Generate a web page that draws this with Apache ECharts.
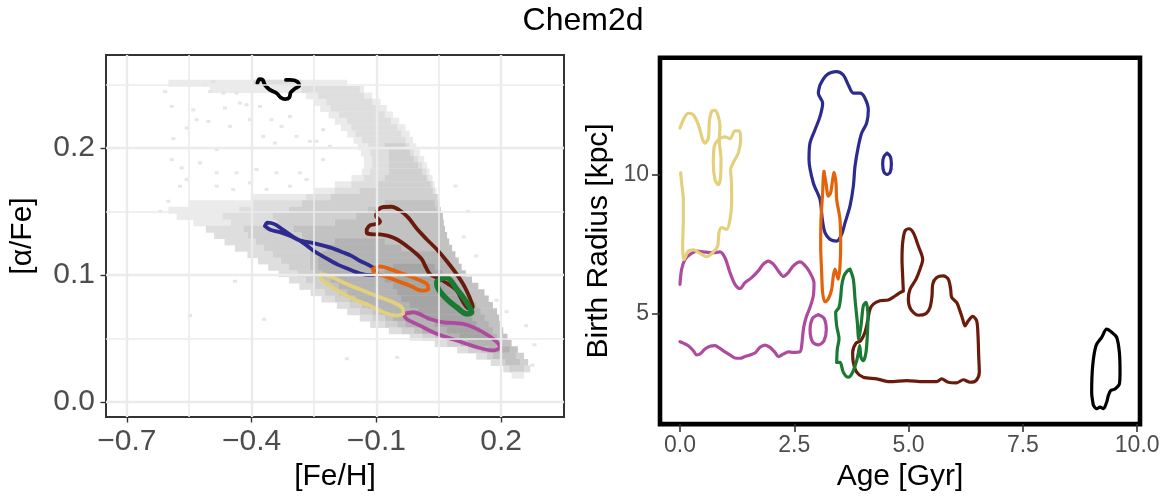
<!DOCTYPE html>
<html>
<head>
<meta charset="utf-8">
<script src="https://cdn.jsdelivr.net/npm/echarts@6/dist/echarts.min.js"></script>
<style>html,body{margin:0;padding:0;background:#fff;}#c{width:1166px;height:497px;}</style>
</head>
<body>
<div id="c"></div>
<script>
// ---------- tick labels ----------
const feTicks = [-0.7, -0.4, -0.1, 0.2];
const feMinor = [-0.55, -0.25, 0.05];
const alphaTicks = [0.0, 0.1, 0.2];
const alphaMinor = [0.05, 0.15, 0.25];
const ageTicks = [0, 2.5, 5, 7.5, 10];
const radiusTicks = [5, 10];

// ---------- density of stars in [Fe/H]-[alpha/Fe] (row y, x from, x to, level) ----------
const densityRuns = [
[0.251,-0.60,-0.43,1],[0.251,-0.43,-0.17,1],[0.251,-0.40,-0.28,2],
[0.246,-0.50,-0.13,1],[0.246,-0.28,-0.14,2],
[0.241,-0.27,-0.11,1],[0.241,-0.24,-0.13,2],
[0.236,-0.25,-0.09,1],[0.236,-0.22,-0.11,2],
[0.231,-0.235,-0.075,1],[0.231,-0.21,-0.095,2],
[0.226,-0.215,-0.06,1],[0.226,-0.19,-0.08,2],
[0.221,-0.20,-0.045,1],[0.221,-0.17,-0.065,2],
[0.216,-0.185,-0.03,1],[0.216,-0.16,-0.05,2],
[0.211,-0.17,-0.02,1],[0.211,-0.15,-0.04,2],
[0.206,-0.155,-0.012,1],[0.206,-0.135,-0.03,2],
[0.201,-0.145,-0.004,1],[0.201,-0.12,-0.02,2],[0.201,-0.08,-0.03,3],
[0.196,-0.137,0.005,1],[0.196,-0.115,-0.01,2],[0.196,-0.07,-0.02,3],
[0.191,-0.13,0.015,1],[0.191,-0.11,0.0,2],[0.191,-0.07,-0.01,3],
[0.186,-0.13,0.022,1],[0.186,-0.11,0.01,2],[0.186,-0.07,0.0,3],
[0.181,-0.135,0.028,1],[0.181,-0.115,0.02,2],[0.181,-0.07,0.01,3],
[0.176,-0.16,0.035,1],[0.176,-0.13,0.025,2],[0.176,-0.08,0.02,3],
[0.171,-0.20,0.04,1],[0.171,-0.16,0.035,2],[0.171,-0.10,0.03,3],
[0.166,-0.25,0.045,1],[0.166,-0.20,0.04,2],[0.166,-0.14,0.035,3],
[0.161,-0.40,-0.27,1],[0.161,-0.27,0.05,2],[0.161,-0.21,0.045,3],
[0.156,-0.55,-0.40,1],[0.156,-0.40,-0.28,2],[0.156,-0.28,0.052,3],[0.156,-0.08,0.04,4],
[0.151,-0.60,-0.43,1],[0.151,-0.43,-0.31,2],[0.151,-0.31,0.055,3],[0.151,-0.12,0.045,4],
[0.146,-0.58,-0.47,1],[0.146,-0.47,-0.35,2],[0.146,-0.35,-0.15,3],[0.146,-0.15,0.06,4],
[0.141,-0.54,-0.45,1],[0.141,-0.45,-0.34,2],[0.141,-0.34,-0.20,3],[0.141,-0.20,0.062,4],
[0.136,-0.51,-0.42,2],[0.136,-0.42,-0.30,3],[0.136,-0.30,0.065,4],
[0.131,-0.49,-0.41,2],[0.131,-0.41,-0.28,3],[0.131,-0.28,0.07,4],
[0.126,-0.465,-0.39,2],[0.126,-0.39,-0.27,3],[0.126,-0.27,0.075,4],[0.126,-0.20,-0.08,5],
[0.121,-0.44,-0.37,2],[0.121,-0.37,-0.26,3],[0.121,-0.26,0.082,4],[0.121,-0.22,-0.04,5],
[0.116,-0.41,-0.35,2],[0.116,-0.35,-0.26,3],[0.116,-0.26,0.09,4],[0.116,-0.23,0.05,5],
[0.111,-0.385,-0.33,2],[0.111,-0.33,-0.26,3],[0.111,-0.26,0.098,4],[0.111,-0.24,0.07,5],
[0.106,-0.36,-0.31,2],[0.106,-0.31,-0.26,3],[0.106,-0.26,0.105,4],[0.106,-0.24,0.08,5],[0.106,-0.06,0.04,6],
[0.101,-0.335,-0.29,2],[0.101,-0.29,-0.25,3],[0.101,-0.25,0.115,4],[0.101,-0.23,0.09,5],[0.101,-0.08,0.06,6],
[0.096,-0.31,-0.27,2],[0.096,-0.27,-0.23,3],[0.096,-0.23,0.13,4],[0.096,-0.21,0.10,5],[0.096,-0.08,0.07,6],
[0.091,-0.285,-0.25,2],[0.091,-0.25,-0.21,3],[0.091,-0.21,0.145,4],[0.091,-0.19,0.11,5],[0.091,-0.06,0.08,6],
[0.086,-0.258,-0.225,2],[0.086,-0.225,-0.19,3],[0.086,-0.19,0.16,4],[0.086,-0.17,0.12,5],[0.086,-0.05,0.09,6],
[0.081,-0.232,-0.20,2],[0.081,-0.20,-0.165,3],[0.081,-0.165,0.17,4],[0.081,-0.15,0.13,5],[0.081,-0.04,0.10,6],
[0.076,-0.195,-0.165,2],[0.076,-0.165,-0.135,3],[0.076,-0.135,0.18,4],[0.076,-0.12,0.14,5],[0.076,-0.02,0.11,6],
[0.071,-0.17,-0.14,2],[0.071,-0.14,-0.11,3],[0.071,-0.11,0.19,4],[0.071,-0.09,0.15,5],[0.071,0.0,0.12,6],
[0.066,-0.14,-0.11,2],[0.066,-0.11,-0.08,3],[0.066,-0.08,0.195,4],[0.066,-0.06,0.16,5],[0.066,0.02,0.13,6],
[0.061,-0.115,-0.08,2],[0.061,-0.08,-0.05,3],[0.061,-0.05,0.20,4],[0.061,-0.03,0.17,5],[0.061,0.04,0.14,6],
[0.056,-0.07,-0.04,2],[0.056,-0.04,-0.01,3],[0.056,-0.01,0.205,4],[0.056,0.01,0.18,5],[0.056,0.07,0.15,6],
[0.051,-0.02,0.01,2],[0.051,0.01,0.04,3],[0.051,0.04,0.215,4],[0.051,0.06,0.19,5],[0.051,0.10,0.17,6],
[0.046,0.04,0.07,2],[0.046,0.07,0.10,3],[0.046,0.10,0.225,4],[0.046,0.12,0.20,5],
[0.041,0.094,0.12,2],[0.041,0.12,0.15,3],[0.041,0.15,0.24,4],[0.041,0.17,0.22,5],
[0.036,0.14,0.165,2],[0.036,0.165,0.255,3],[0.036,0.18,0.235,4],
[0.031,0.175,0.20,2],[0.031,0.20,0.265,3],[0.031,0.21,0.245,4],
[0.026,0.205,0.27,2],[0.026,0.22,0.255,3],
[0.021,0.225,0.255,1]
];

// isolated stars (sparse cells)
const sparseStars = [
[-0.608,0.2444],[-0.592,0.2327],[-0.588,0.2073],[-0.556,0.2157],[-0.592,0.1908],[-0.568,0.1843],
[-0.540,0.230],[-0.532,0.2222],[-0.512,0.2497],[-0.504,0.2209],[-0.500,0.2444],[-0.492,0.2523],
[-0.484,0.1987],[-0.468,0.2431],[-0.464,0.2314],[-0.452,0.217],[-0.436,0.2431],[-0.428,0.2353],
[-0.412,0.234],[-0.404,0.2222],[-0.380,0.2327],[-0.372,0.2091],[-0.352,0.2222],[-0.344,0.2039],
[-0.328,0.217],[-0.308,0.2248],[-0.292,0.2091],[-0.260,0.2052],[-0.244,0.2052],[-0.228,0.2144],
[-0.212,0.2013],[-0.228,0.1908],[-0.284,0.1804],[-0.340,0.1804],[-0.388,0.183],[-0.436,0.1804],
[-0.484,0.1804],[-0.524,0.1882],[-0.556,0.1751],[-0.572,0.1699],[-0.484,0.1699],[-0.444,0.1673],
[-0.404,0.1725],[-0.364,0.1673],[-0.308,0.1699],[-0.268,0.1751],
[-0.548,0.068],[-0.171,0.034],[0.11,0.13],[0.14,0.115],[0.189,0.080],[0.213,0.071],[0.26,0.06],
[0.275,0.029],[-0.62,0.15],[-0.60,0.158],[-0.44,0.095],[-0.37,0.065],[0.09,0.17],[0.12,0.15],
[-0.05,0.035],[0.28,0.045]
];

// ---------- contours, left panel ([Fe/H], [alpha/Fe]) ----------
const leftBlack = [[-0.3862,0.2510],[-0.3814,0.2541],[-0.3734,0.2536],[-0.3678,0.2494],[-0.3558,0.2457],[-0.3397,0.2431],[-0.3301,0.2397],[-0.3197,0.2384],[-0.3093,0.2397],[-0.3061,0.2436],[-0.2957,0.2468],[-0.2853,0.2489],[-0.2901,0.2523],[-0.3077,0.2536],[-0.3173,0.2536]];
const leftBrown = [[-0.1233,0.1359],[-0.1154,0.1391],[-0.0955,0.1404],[-0.0913,0.1424],[-0.101,0.1464],[-0.097,0.1508],[-0.0833,0.1535],[-0.0632,0.1537],[-0.045,0.1511],[-0.0233,0.1451],[-0.0032,0.1365],[0.0208,0.1281],[0.045,0.1202],[0.069,0.111],[0.093,0.1006],[0.1129,0.0902],[0.129,0.0784],[0.1317,0.0745],[0.121,0.0737],[0.1089,0.0784],[0.093,0.0876],[0.073,0.0928],[0.049,0.0972],[0.0288,0.1006],[0.0192,0.1059],[0.0089,0.1124],[-0.0072,0.1176],[-0.0272,0.1228],[-0.0512,0.1281],[-0.0714,0.1307],[-0.0913,0.132],[-0.1074,0.132],[-0.1233,0.1333],[-0.1233,0.1359]];
const leftMagenta = [[-0.0353,0.0693],[-0.0113,0.0706],[0.0288,0.0653],[0.0609,0.0627],[0.1089,0.0614],[0.1411,0.0575],[0.1810,0.0496],[0.1971,0.0431],[0.1810,0.0405],[0.1411,0.0431],[0.093,0.0483],[0.045,0.0536],[0.0048,0.0601],[-0.0272,0.0653],[-0.0353,0.0693]];
const leftYellow = [[-0.236,0.0995],[-0.2315,0.1007],[-0.2115,0.0989],[-0.1714,0.0929],[-0.1315,0.0876],[-0.0913,0.0824],[-0.0593,0.0784],[-0.0392,0.0745],[-0.0352,0.0700],[-0.0512,0.0680],[-0.0833,0.0706],[-0.1154,0.0758],[-0.1474,0.0798],[-0.1795,0.0850],[-0.2115,0.0915],[-0.2315,0.0963],[-0.236,0.0995]];
const leftBlue = [[-0.368,0.1385],[-0.362,0.1412],[-0.345,0.140],[-0.324,0.1355],[-0.300,0.1300],[-0.284,0.1270],[-0.265,0.1225],[-0.244,0.1175],[-0.220,0.1130],[-0.195,0.1085],[-0.170,0.1050],[-0.147,0.1020],[-0.125,0.1000],[-0.108,0.0998],[-0.099,0.1015],[-0.103,0.1046],[-0.120,0.1080],[-0.139,0.1110],[-0.160,0.1150],[-0.179,0.1176],[-0.210,0.1215],[-0.244,0.1245],[-0.284,0.1272],[-0.305,0.1305],[-0.330,0.1335],[-0.355,0.1355],[-0.368,0.1385]];
const leftOrange = [[-0.109,0.1046],[-0.091,0.1067],[-0.067,0.1046],[-0.035,0.1007],[-0.003,0.0968],[0.021,0.0929],[0.025,0.0889],[0.009,0.0876],[-0.019,0.0915],[-0.051,0.0954],[-0.083,0.0994],[-0.103,0.1007],[-0.109,0.1046]];
const leftGreen = [[0.0529,0.0967],[0.069,0.098],[0.093,0.0889],[0.117,0.0784],[0.129,0.0706],[0.117,0.0693],[0.093,0.0745],[0.069,0.081],[0.049,0.0889],[0.045,0.0941],[0.0529,0.0967]];

// ---------- contours, right panel (Age, Birth radius) ----------
const rightYellow = [[0.000,11.67],[0.182,12.20],[0.292,12.14],[0.401,11.79],[0.496,11.25],[0.547,11.13],[0.620,11.31],[0.642,11.90],[0.693,12.26],[0.766,12.30],[0.838,12.08],[0.875,11.73],[0.860,11.25],[0.897,10.54],[0.889,9.94],[0.838,9.64],[0.766,9.82],[0.729,10.42],[0.751,11.01],[0.838,11.25],[0.984,11.35],[1.094,11.29],[1.203,11.57],[1.298,11.57],[1.327,11.25],[1.276,10.77],[1.181,10.48],[1.108,10.18],[1.130,9.58],[1.130,8.99],[1.094,8.39],[1.021,8.04],[0.911,8.10],[0.853,7.92],[0.824,7.44],[0.729,7.23],[0.583,7.06],[0.437,7.18],[0.292,7.30],[0.182,7.26],[0.088,6.96],[0.058,7.44],[0.073,8.39],[0.073,9.11],[0.036,9.70],[0.015,10.06]];
const rightMagenta = [[0.000,6.07],[0.036,6.61],[0.109,6.96],[0.219,7.14],[0.365,7.26],[0.510,7.23],[0.729,7.20],[0.875,7.23],[0.984,7.02],[1.094,6.49],[1.203,6.07],[1.312,5.92],[1.422,6.13],[1.568,6.31],[1.713,6.55],[1.823,6.79],[1.932,6.90],[2.042,6.79],[2.151,6.55],[2.260,6.35],[2.370,6.49],[2.479,6.73],[2.625,6.87],[2.771,6.67],[2.880,6.37],[2.931,6.13],[2.916,5.65],[2.843,5.24],[2.771,4.94],[2.712,4.58],[2.683,4.23],[2.661,3.87],[2.625,3.65],[2.479,3.63],[2.370,3.65],[2.260,3.57],[2.151,3.48],[2.078,3.63],[1.969,3.81],[1.859,3.89],[1.750,3.81],[1.640,3.61],[1.531,3.54],[1.422,3.48],[1.312,3.42],[1.203,3.43],[1.094,3.54],[0.984,3.65],[0.875,3.77],[0.766,3.87],[0.656,3.85],[0.547,3.75],[0.437,3.57],[0.365,3.54],[0.292,3.69],[0.182,3.87],[0.073,3.96],[0.000,4.01]];
const rightMagentaLoop = [[3.025,4.98],[3.15,4.85],[3.20,4.44],[3.15,4.05],[3.025,3.90],[2.90,4.00],[2.845,4.44],[2.90,4.85],[3.025,4.98]];
const rightBlue = [[3.062,13.21],[3.208,13.57],[3.427,13.69],[3.572,13.57],[3.682,13.21],[3.791,12.92],[3.937,12.92],[4.046,12.74],[4.119,12.32],[4.083,11.85],[3.974,11.49],[3.901,11.01],[3.828,10.30],[3.791,9.58],[3.718,8.87],[3.609,8.27],[3.536,7.86],[3.427,7.62],[3.281,7.68],[3.171,7.92],[3.113,8.39],[3.062,9.11],[2.916,9.70],[2.822,10.54],[2.843,11.13],[2.953,11.61],[3.062,12.08],[3.120,12.56],[3.026,12.92],[3.062,13.21]];
const rightBlueLoop = [[4.528,10.77],[4.60,10.65],[4.623,10.39],[4.60,10.10],[4.528,10.01],[4.46,10.10],[4.433,10.39],[4.46,10.65],[4.528,10.77]];
const rightOrange = [[3.150,10.12],[3.193,9.70],[3.244,9.23],[3.295,9.35],[3.339,9.82],[3.368,10.08],[3.412,9.70],[3.427,9.11],[3.500,8.39],[3.514,7.44],[3.500,6.73],[3.463,6.25],[3.390,6.61],[3.354,6.37],[3.317,5.89],[3.244,5.54],[3.171,5.44],[3.120,5.77],[3.099,6.49],[3.077,7.44],[3.084,8.39],[3.120,9.35],[3.135,9.94],[3.150,10.12]];
const rightGreen = [[3.718,6.61],[3.791,6.25],[3.828,5.54],[3.879,4.70],[3.910,4.10],[3.959,4.58],[4.010,5.30],[4.068,5.42],[4.112,4.94],[4.097,4.23],[4.068,3.63],[4.010,3.33],[3.959,3.45],[3.930,3.87],[3.900,3.60],[3.864,3.33],[3.777,2.92],[3.682,2.74],[3.572,2.92],[3.500,3.27],[3.427,3.27],[3.441,3.75],[3.478,4.11],[3.427,4.58],[3.405,5.06],[3.478,5.24],[3.514,5.60],[3.536,6.01],[3.587,6.37],[3.660,6.55],[3.718,6.61]];
const rightBrown = [[4.885,5.83],[4.870,6.37],[4.856,6.96],[4.870,7.56],[4.921,7.98],[5.009,8.06],[5.104,7.92],[5.213,7.44],[5.308,6.96],[5.249,6.61],[5.162,6.25],[5.031,5.89],[4.994,5.54],[5.045,5.18],[5.213,4.96],[5.381,5.02],[5.468,5.24],[5.512,5.65],[5.527,6.07],[5.614,6.31],[5.760,6.37],[5.869,6.25],[5.920,5.89],[5.942,5.60],[6.051,5.42],[6.110,5.18],[6.183,4.82],[6.234,4.58],[6.306,4.76],[6.401,4.92],[6.489,4.76],[6.518,4.23],[6.533,3.51],[6.547,2.92],[6.474,2.62],[6.343,2.56],[6.197,2.65],[6.051,2.54],[5.869,2.56],[5.723,2.68],[5.614,2.58],[5.322,2.58],[4.958,2.62],[4.593,2.58],[4.302,2.68],[4.010,2.74],[3.864,2.92],[3.791,3.27],[3.777,3.63],[3.850,3.96],[3.952,4.05],[4.046,4.35],[4.105,4.76],[4.156,5.18],[4.229,5.36],[4.374,5.48],[4.557,5.51],[4.703,5.65],[4.812,5.77],[4.885,5.83]];
const rightBlack = [[9.041,1.73],[9.004,2.20],[9.026,3.15],[9.099,3.87],[9.223,4.17],[9.333,4.46],[9.442,4.35],[9.551,4.17],[9.610,3.63],[9.624,2.92],[9.610,2.50],[9.515,2.32],[9.420,2.26],[9.369,2.08],[9.333,1.85],[9.260,1.61],[9.187,1.67],[9.114,1.61],[9.041,1.73]];

// ---------- styling ----------
const FONT = 'Liberation Sans, Arial, Helvetica, sans-serif';
const levelColors = ['#ffffff', '#ebebeb', '#dedede', '#d0d0d0', '#c2c2c2', '#b3b3b3', '#a5a5a5'];
const ROW_H = 0.005;
const COL = {black:'#000000', brown:'#6a1b0b', magenta:'#ae4b9f', yellow:'#e3d07d', blue:'#2d2b8f', orange:'#e3630b', green:'#1a7a33'};

const fmtSigned = v => (v < 0 ? '\u2212' : '') + Math.abs(v).toFixed(1);

function contour(data, color, idx, width) {
  return {type:'line', xAxisIndex:idx, yAxisIndex:idx, data:data, symbol:'none', showSymbol:false,
    smooth:0.3, silent:true, animation:false, z:4,
    lineStyle:{color:color, width:width, cap:'round', join:'round'}};
}

const gridMarks = [];
feTicks.forEach(v => gridMarks.push({xAxis:v, lineStyle:{color:'#ebebeb', width:2.4, type:'solid'}}));
feMinor.forEach(v => gridMarks.push({xAxis:v, lineStyle:{color:'#ebebeb', width:1.6, type:'solid'}}));
alphaTicks.forEach(v => gridMarks.push({yAxis:v, lineStyle:{color:'#ebebeb', width:2.4, type:'solid'}}));
alphaMinor.forEach(v => gridMarks.push({yAxis:v, lineStyle:{color:'#ebebeb', width:1.6, type:'solid'}}));

const chart = echarts.init(document.getElementById('c'), null, {renderer:'canvas'});
const option = {
  animation:false,
  backgroundColor:'#ffffff',
  textStyle:{fontFamily:FONT},
  title:{text:'Chem2d', left:'center', top:0,
    textStyle:{fontFamily:FONT, fontSize:32, fontWeight:'normal', color:'#000'}},
  grid:[
    {left:106, top:55, width:458, height:363.5, show:true, borderColor:'#333333', borderWidth:2, backgroundColor:'transparent', containLabel:false, z:5},
    {left:660, top:57.7, width:480, height:367.6, show:true, borderColor:'#000000', borderWidth:4.6, backgroundColor:'transparent', containLabel:false}
  ],
  xAxis:[
    {type:'value', gridIndex:0, min:-0.75, max:0.351,
      axisLine:{show:false, onZero:false}, splitLine:{show:false},
      axisTick:{show:true, customValues:feTicks, length:5.5, lineStyle:{color:'#333', width:1.4}},
      axisLabel:{customValues:feTicks, formatter:fmtSigned, fontSize:30, color:'#4d4d4d', margin:10, fontFamily:FONT},
      name:'[Fe/H]', nameLocation:'middle', nameGap:45, nameTextStyle:{fontSize:30, color:'#000', fontFamily:FONT}},
    {type:'value', gridIndex:1, min:-0.437, max:10.061,
      axisLine:{show:false, onZero:false}, splitLine:{show:false},
      axisTick:{show:true, customValues:ageTicks, length:8, lineStyle:{color:'#333', width:1.6}},
      axisLabel:{customValues:ageTicks, formatter:v => v.toFixed(1), fontSize:23, color:'#4d4d4d', margin:10, fontFamily:FONT},
      name:'Age [Gyr]', nameLocation:'middle', nameGap:36, nameTextStyle:{fontSize:30, color:'#000', fontFamily:FONT}}
  ],
  yAxis:[
    {type:'value', gridIndex:0, min:-0.0119, max:0.2732,
      axisLine:{show:false, onZero:false}, splitLine:{show:false},
      axisTick:{show:true, customValues:alphaTicks, length:5.5, lineStyle:{color:'#333', width:1.4}},
      axisLabel:{customValues:alphaTicks, formatter:v => v.toFixed(1), fontSize:30, color:'#4d4d4d', margin:11, fontFamily:FONT},
      name:'[\u03b1/Fe]', nameLocation:'middle', nameGap:68, nameRotate:90, nameTextStyle:{fontSize:30, color:'#000', fontFamily:FONT}},
    {type:'value', gridIndex:1, min:1.06, max:14.19,
      axisLine:{show:false, onZero:false}, splitLine:{show:false},
      axisTick:{show:true, customValues:radiusTicks, length:8, lineStyle:{color:'#333', width:1.6}},
      axisLabel:{customValues:radiusTicks, formatter:v => String(v), fontSize:23, color:'#4d4d4d', margin:11, fontFamily:FONT},
      name:'Birth Radius [kpc]', nameLocation:'middle', nameGap:46, nameRotate:90, nameTextStyle:{fontSize:30, color:'#000', fontFamily:FONT}}
  ],
  series:[
    {type:'line', xAxisIndex:0, yAxisIndex:0, data:[], silent:true, z:1,
      markLine:{silent:true, symbol:['none','none'], label:{show:false}, animation:false, data:gridMarks}},
    {type:'custom', xAxisIndex:0, yAxisIndex:0, data:densityRuns, silent:true, z:2, clip:true,
      encode:{x:[1,2], y:0},
      renderItem:function(params, api){
        const y = api.value(0), x0 = api.value(1), x1 = api.value(2), lv = api.value(3);
        const p0 = api.coord([x0, y + ROW_H/2]);
        const p1 = api.coord([x1, y - ROW_H/2]);
        return {type:'rect', shape:{x:p0[0], y:p0[1]-0.3, width:p1[0]-p0[0], height:p1[1]-p0[1]+0.6},
          style:{fill:levelColors[lv]}};
      }},
    {type:'scatter', xAxisIndex:0, yAxisIndex:0, data:sparseStars, symbol:'rect', symbolSize:[4,3],
      itemStyle:{color:'#e0e0e0'}, silent:true, z:3},
    contour(leftBrown, COL.brown, 0, 3.8),
    contour(leftMagenta, COL.magenta, 0, 3.8),
    contour(leftYellow, COL.yellow, 0, 3.8),
    contour(leftBlue, COL.blue, 0, 3.8),
    contour(leftOrange, COL.orange, 0, 3.8),
    contour(leftGreen, COL.green, 0, 5.5),
    contour(leftBlack, COL.black, 0, 3.8),
    contour(rightBlack, COL.black, 1, 3.2),
    contour(rightBrown, COL.brown, 1, 3.2),
    contour(rightMagenta, COL.magenta, 1, 3.2),
    contour(rightMagentaLoop, COL.magenta, 1, 3.2),
    contour(rightYellow, COL.yellow, 1, 3.2),
    contour(rightBlue, COL.blue, 1, 3.2),
    contour(rightBlueLoop, COL.blue, 1, 3.2),
    contour(rightOrange, COL.orange, 1, 3.2),
    contour(rightGreen, COL.green, 1, 3.2)
  ]
};
chart.setOption(option);
</script>
</body>
</html>
